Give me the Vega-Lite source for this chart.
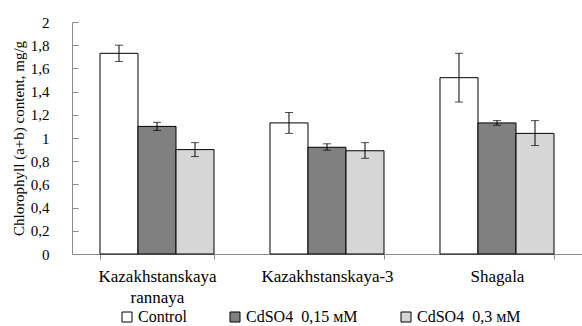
{
  "$schema": "https://vega.github.io/schema/vega-lite/v6.json",
  "width": 510,
  "height": 232,
  "autosize": {"type": "none"},
  "padding": {"left": 72, "top": 22, "right": 0, "bottom": 72},
  "background": "white",
  "config": {
    "view": {"stroke": null},
    "font": "Liberation Serif",
    "style": {
      "guide-label": {"font": "Liberation Serif", "fill": "black"},
      "guide-title": {"font": "Liberation Serif", "fill": "black"}
    },
    "axis": {"labelFont": "Liberation Serif", "titleFont": "Liberation Serif", "labelColor": "black", "titleColor": "black", "grid": false, "domainColor": "#8c8c8c", "tickColor": "#8c8c8c"},
    "axisY": {"tickCount": 10, "labelOverlap": false, "labelFontSize": 15, "tickSize": -6, "labelPadding": 29, "titleFontSize": 15, "titleFontWeight": "normal", "titlePadding": 4},
    "legend": {"labelFont": "Liberation Serif", "labelColor": "black", "labelFontSize": 16}
  },
  "data": {
    "values": [
      {"cultivar": "Kazakhstanskaya rannaya", "treatment": "Control", "value": 1.73, "lo": 1.66, "hi": 1.80},
      {"cultivar": "Kazakhstanskaya rannaya", "treatment": "CdSO4\u00a0\u00a00,15 мМ", "value": 1.10, "lo": 1.065, "hi": 1.135},
      {"cultivar": "Kazakhstanskaya rannaya", "treatment": "CdSO4\u00a0\u00a00,3 мМ", "value": 0.90, "lo": 0.84, "hi": 0.96},
      {"cultivar": "Kazakhstanskaya-3", "treatment": "Control", "value": 1.13, "lo": 1.04, "hi": 1.22},
      {"cultivar": "Kazakhstanskaya-3", "treatment": "CdSO4\u00a0\u00a00,15 мМ", "value": 0.92, "lo": 0.895, "hi": 0.95},
      {"cultivar": "Kazakhstanskaya-3", "treatment": "CdSO4\u00a0\u00a00,3 мМ", "value": 0.89, "lo": 0.825, "hi": 0.96},
      {"cultivar": "Shagala", "treatment": "Control", "value": 1.52, "lo": 1.31, "hi": 1.73},
      {"cultivar": "Shagala", "treatment": "CdSO4\u00a0\u00a00,15 мМ", "value": 1.13, "lo": 1.11, "hi": 1.15},
      {"cultivar": "Shagala", "treatment": "CdSO4\u00a0\u00a00,3 мМ", "value": 1.04, "lo": 0.935, "hi": 1.15}
    ]
  },
  "encoding": {
    "x": {
      "field": "cultivar", "type": "nominal", "sort": null,
      "scale": {"paddingInner": 0.3294, "paddingOuter": 0.1647},
      "axis": {
        "title": null, "labelAngle": 0, "labelFontSize": 17, "labelPadding": 9, "labelLineHeight": 21,
        "labelFont": "Liberation Serif",
        "tickBand": "extent", "tickSize": 5, "labelLimit": 300,
        "labelExpr": "datum.label == 'Kazakhstanskaya rannaya' ? ['Kazakhstanskaya', 'rannaya'] : datum.label"
      }
    },
    "xOffset": {"field": "treatment", "type": "nominal", "sort": null}
  },
  "layer": [
    {
      "mark": {"type": "bar", "stroke": "black", "strokeWidth": 1},
      "encoding": {
        "y": {
          "field": "value", "type": "quantitative",
          "scale": {"domain": [0, 2]},
          "axis": {"format": ".1~f", "labelExpr": "replace(datum.label, '.', ',')", "title": "Chlorophyll (a+b) content, mg/g"}
        },
        "fill": {
          "field": "treatment", "type": "nominal", "sort": null,
          "scale": {"range": ["#ffffff", "#808080", "#d6d6d6"]},
          "legend": {
            "title": null, "orient": "none", "direction": "horizontal",
            "legendX": 47, "legendY": 287, "symbolType": "square", "symbolSize": 100,
            "symbolStrokeColor": "black", "symbolStrokeWidth": 1,
            "columnPadding": 40, "labelOffset": 3, "labelLimit": 250
          }
        }
      }
    },
    {
      "mark": {"type": "rule", "color": "black", "strokeWidth": 1},
      "encoding": {"y": {"field": "lo", "type": "quantitative", "axis": {"format": ".1~f", "labelExpr": "replace(datum.label, '.', ',')", "title": "Chlorophyll (a+b) content, mg/g"}}, "y2": {"field": "hi"}}
    },
    {
      "mark": {"type": "tick", "color": "black", "thickness": 1, "size": 8, "orient": "horizontal"},
      "encoding": {"y": {"field": "lo", "type": "quantitative", "axis": {"format": ".1~f", "labelExpr": "replace(datum.label, '.', ',')", "title": "Chlorophyll (a+b) content, mg/g"}}}
    },
    {
      "mark": {"type": "tick", "color": "black", "thickness": 1, "size": 8, "orient": "horizontal"},
      "encoding": {"y": {"field": "hi", "type": "quantitative", "axis": {"format": ".1~f", "labelExpr": "replace(datum.label, '.', ',')", "title": "Chlorophyll (a+b) content, mg/g"}}}
    }
  ]
}
